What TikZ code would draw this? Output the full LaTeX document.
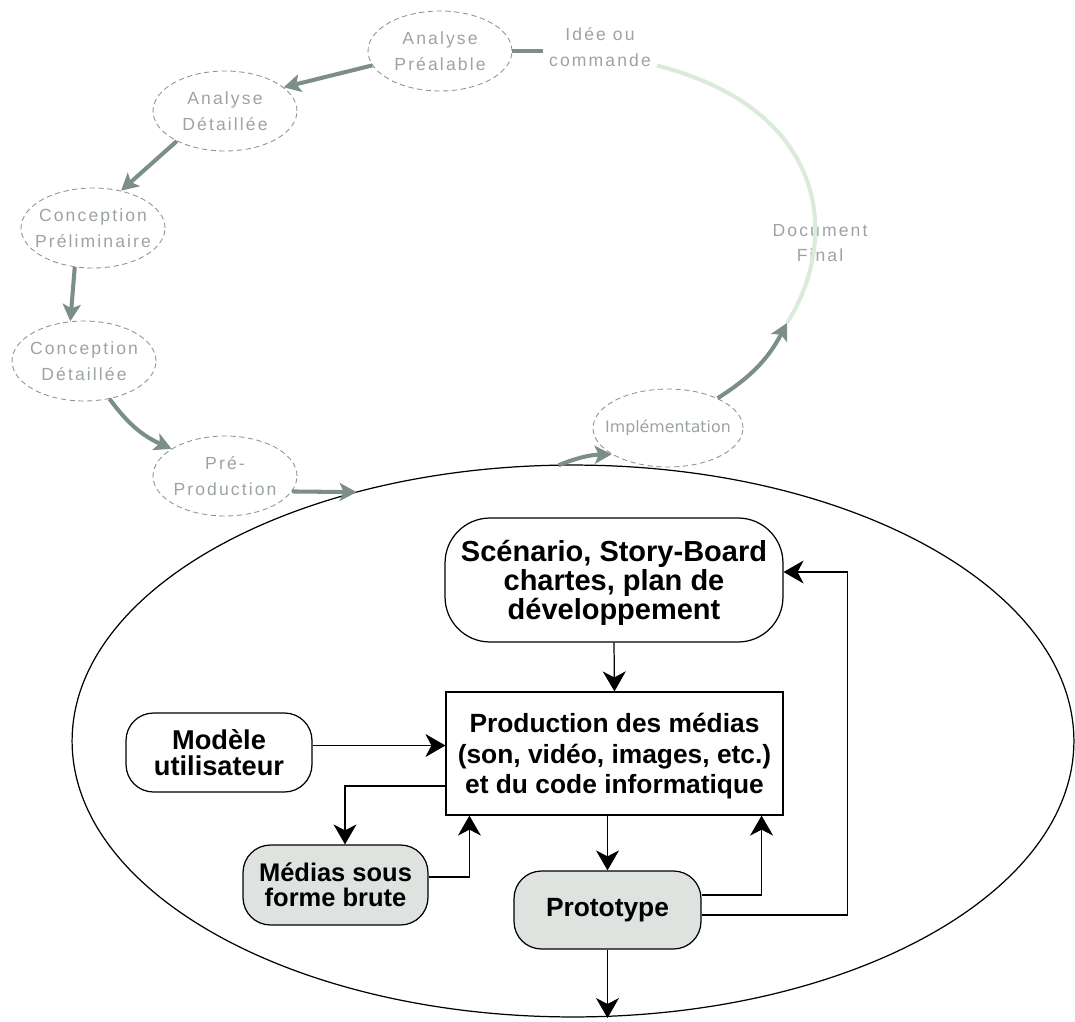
\documentclass[tikz,border=0pt]{standalone}
\usepackage{fontspec}
\setmainfont{Liberation Sans}
\newfontfamily\cyclefont{Liberation Sans}[LetterSpace=12]
\newfontfamily\implfont{DejaVu Sans}
\usetikzlibrary{shapes.geometric, arrows.meta}

\definecolor{cycgray}{HTML}{8E9491}
\definecolor{cyctext}{HTML}{9CA4A1}
\definecolor{cycarrow}{HTML}{7B8E88}
\definecolor{backgreen}{HTML}{DAEBDA}
\definecolor{boxfill}{HTML}{DEE3E0}

\begin{document}
\begin{tikzpicture}[
  x=0.02cm, y=-0.02cm,
  lbl/.style={text=cyctext, align=center, font=\cyclefont\fontsize{10}{14.5}\selectfont},
  cyc/.style={ellipse, draw=cycgray, densely dashed, line width=0.5pt,
    minimum width=2.88cm, minimum height=1.6cm, inner sep=0pt},
  phase/.style={ellipse, draw, line width=0.7pt, minimum width=20.04cm,
    minimum height=11.04cm, inner sep=0pt, outer sep=0pt},
  garrow/.style={draw=cycarrow, line width=2.3pt,
    -{Stealth[length=0.34cm, width=0.36cm, inset=0.08cm]}},
  back/.style={draw=backgreen, line width=2.3pt},
  box/.style={draw, line width=0.7pt, align=center, inner sep=0pt},
  rbox/.style={box, rounded corners=0.55cm},
  arrow/.style={draw, line width=0.7pt,
    -{Stealth[length=0.4cm, width=0.46cm, inset=0.12cm]}}]

  \useasboundingbox (0,0) rectangle (1075,1021);

  % ---- production phase ---------------------------------------------------
  \node[phase] (PHASE) at (573,741) {};

  % ---- cycle --------------------------------------------------------------
  \node[lbl] (IDEE) at (600,47) {Idée ou\\commande};
  \node[cyc, label={[lbl]center:{Analyse\\Préalable}}]      (AP) at (440,51)  {};
  \node[cyc, label={[lbl]center:{Analyse\\Détaillée}}]      (AD) at (225,111) {};
  \node[cyc, label={[lbl]center:{Conception\\Préliminaire}}] (CP) at (93,228)  {};
  \node[cyc, label={[lbl]center:{Conception\\Détaillée}}]   (CD) at (84,361)  {};
  \node[cyc, label={[lbl]center:{Pré-\\Production}}]        (PP) at (225,476) {};
  \node[cyc, minimum width=3cm, minimum height=1.56cm,
    label={[text=cyctext, font=\implfont\fontsize{9}{11}\selectfont]center:Implémentation}]
    (IMP) at (668,428) {};
  \node[lbl] (DOC) at (820,243) {Document\\Final};
  \coordinate (DF) at (787,323);

  \draw[back] (DF) .. controls (840,240) and (830,110) .. (IDEE.-18);
  \draw[draw=cycarrow, line width=2.3pt] (AP.east) -- (AP.east -| IDEE.west);
  \draw[garrow] (AP.192) -- (AD.22);
  \draw[garrow] (AD.212) -- (CP.53);
  \draw[garrow] (CP.245) -- (CD.109);
  \draw[garrow] (CD.304) to[bend right=15] (PP.153);
  \draw[garrow] (PP.347) -- (PHASE.131);
  \draw[garrow] (PHASE.93) to[bend left=10] (IMP.205);
  \draw[garrow] (IMP.31) to[bend right=15] (DF);

  % ---- boxes --------------------------------------------------------------
  % negative text depth pushes the lines a little below the box centre, as
  % in the original
  \node[rbox, rounded corners=0.9cm, minimum width=6.76cm, minimum height=2.48cm,
    text depth=-0.55cm, font=\bfseries\fontsize{16.5}{14.5}\selectfont]
    (SCEN) at (614,580) {Scénario, Story-Board\\chartes, plan de\\développement};
  \node[box, minimum width=6.74cm, minimum height=2.46cm,
    text depth=-0.4cm, font=\bfseries\fontsize{15}{17.5}\selectfont]
    (PROD) at (614.5,753.5) {Production des médias\\(son, vidéo, images, etc.)\\et du code informatique};
  \node[rbox, minimum width=3.72cm, minimum height=1.58cm,
    font=\bfseries\fontsize{15.5}{14.5}\selectfont]
    (MOD) at (219,752.5) {Modèle\\utilisateur};
  \node[rbox, fill=boxfill, minimum width=3.7cm, minimum height=1.6cm,
    text depth=-0.05cm, font=\bfseries\fontsize{14.5}{14.2}\selectfont]
    (MED) at (335.5,885) {Médias sous\\forme brute};
  \node[rbox, fill=boxfill, minimum width=3.74cm, minimum height=1.56cm,
    font=\bfseries\fontsize{15}{17}\selectfont]
    (PROTO) at (607.5,910) {Prototype};
  \coordinate (EXIT) at (604,1018);

  % ---- arrows -------------------------------------------------------------
  \draw[arrow] (SCEN.south) -- (PROD.north);
  \draw[arrow] ([yshift=0.14cm]MOD.east) -- ([yshift=0.14cm]MOD.east -| PROD.west);
  \draw[arrow] ([yshift=-0.65cm]PROD.west) -| ([xshift=0.19cm]MED.north);
  \draw[arrow] ([yshift=0.16cm]MED.east) -| ([xshift=0.48cm]PROD.south west);
  \draw[arrow] (PROD.south -| PROTO.north) -- (PROTO.north);
  \draw[arrow] ([yshift=0.3cm]PROTO.east) -| ([xshift=-0.44cm]PROD.south east);
  \draw[arrow] ([yshift=-0.1cm]PROTO.east) -- ++(2.92cm,0) |- ([yshift=0.16cm]SCEN.east);
  \draw[arrow] (PROTO.south) -- (PROTO.south |- EXIT);
\end{tikzpicture}
\end{document}
